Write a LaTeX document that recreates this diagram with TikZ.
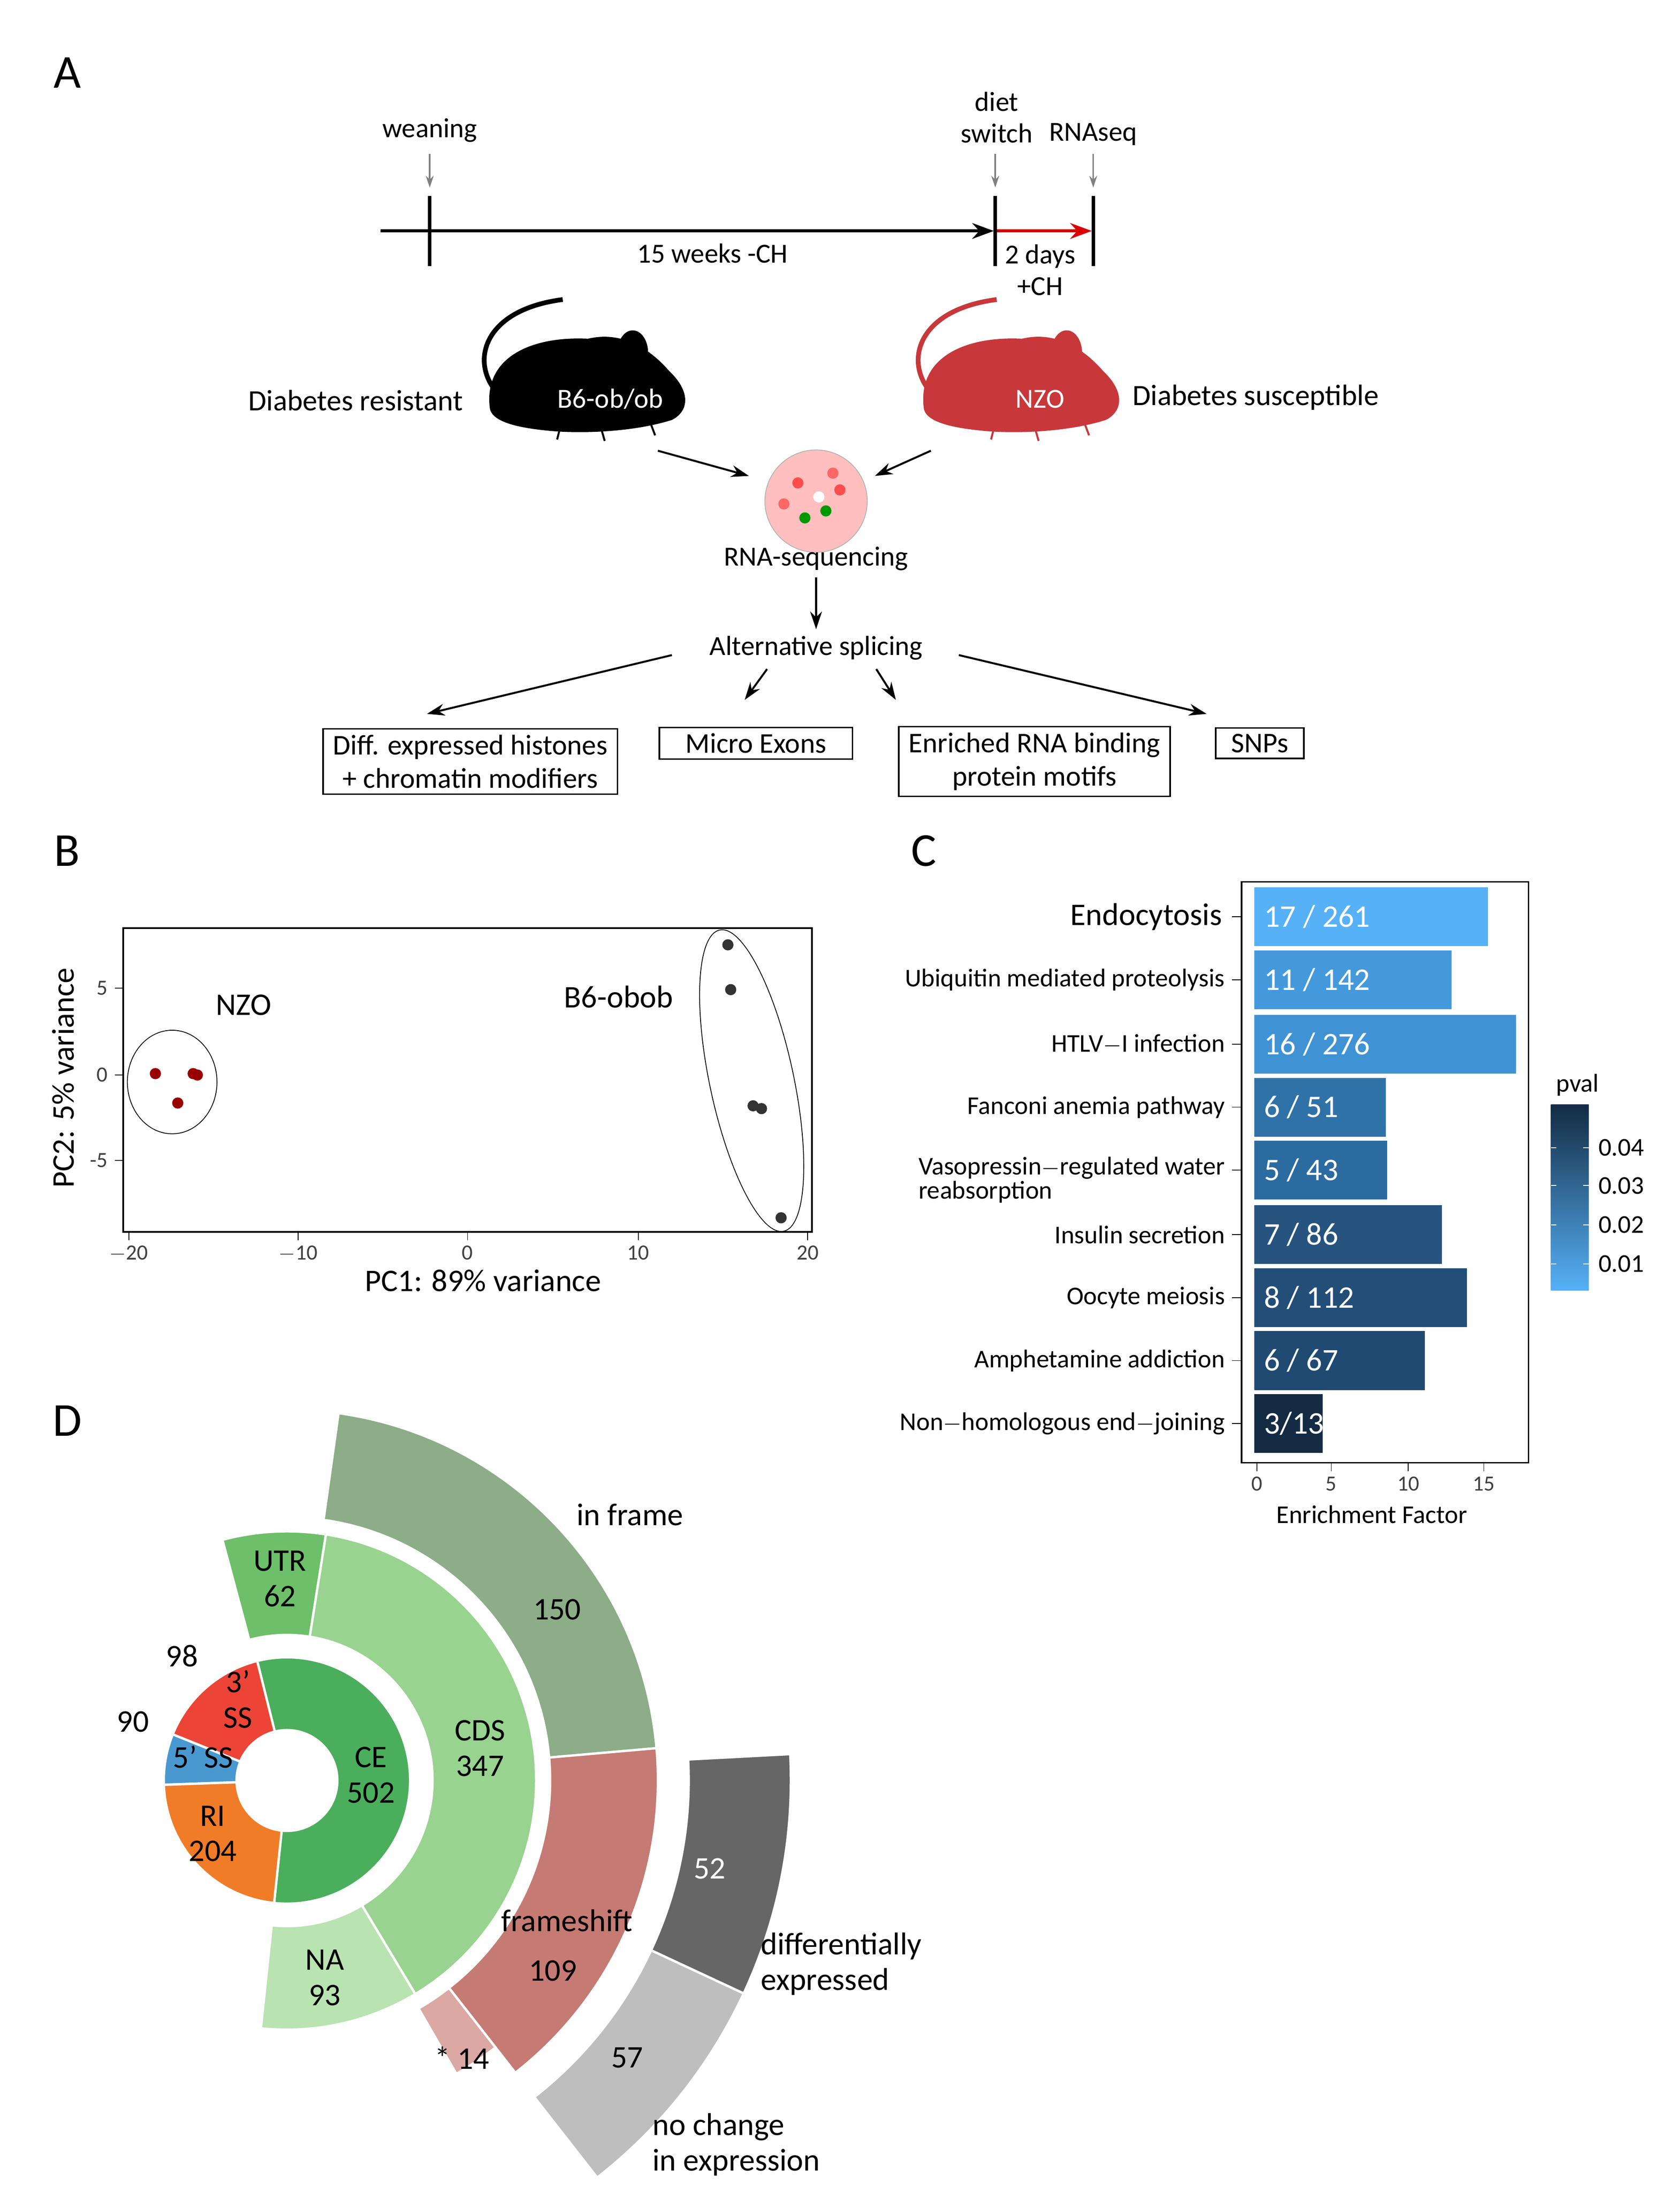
\documentclass[tikz,border=0pt]{standalone}
\usepackage{fontspec}
\setmainfont{Carlito}
\usetikzlibrary{arrows.meta,shapes.geometric}
\definecolor{bA}{HTML}{56B1F7}\definecolor{bB}{HTML}{4499DD}\definecolor{bC}{HTML}{3F93D4}
\definecolor{bD}{HTML}{2F72A8}\definecolor{bE}{HTML}{2C6BA0}\definecolor{bF}{HTML}{26547F}
\definecolor{bG}{HTML}{224E78}\definecolor{bH}{HTML}{204A72}\definecolor{bI}{HTML}{132B43}
\definecolor{cCE}{HTML}{4BAE5C}\definecolor{cRI}{HTML}{F07C28}\definecolor{cF}{HTML}{4A98D0}
\definecolor{cT}{HTML}{EC4436}\definecolor{cUTR}{HTML}{6DBF69}\definecolor{cCDS}{HTML}{98D38F}
\definecolor{cNA}{HTML}{B9E3B0}\definecolor{cIF}{HTML}{8CAD87}\definecolor{cFS}{HTML}{C57A73}
\definecolor{cST}{HTML}{DBA8A3}\definecolor{cDE}{HTML}{666666}\definecolor{cNC}{HTML}{BEBEBE}
\definecolor{mred}{HTML}{C8383A}
\newcommand{\wseg}[5]{\filldraw[fill=#1,draw=white,line width=1.2pt] (#2:#4) arc[start angle=#2,end angle=#3,radius=#4] -- (#3:#5) arc[start angle=#3,end angle=#2,radius=#5] -- cycle;}
\newcommand{\mymouse}[2]{%
 \begin{scope}[shift={(#1,0)}]
 \draw[#2,line width=2.4pt] (360,285) .. controls (335,265) and (340,222) .. (402,214);
 \fill[#2] (350,292) .. controls (345,255) and (380,240) .. (420,242) .. controls (445,236) and (465,250) .. (478,265) .. controls (494,280) and (492,294) .. (480,300) .. controls (455,308) and (420,310) .. (395,308) .. controls (372,306) and (352,302) .. (350,292) -- cycle;
 \fill[#2] (452,252) ellipse [x radius=11,y radius=16];
 \draw[#2,line width=1pt] (400,306)--(398,314) (430,308)--(432,315) (465,303)--(468,311);
 \end{scope}}
\begin{document}
\begin{tikzpicture}[x=0.025cm,y=-0.025cm,font=\fontsize{14}{16}\selectfont]
\useasboundingbox (0,0) rectangle (1200,1566);
\tikzset{lbl/.style={font=\fontsize{24}{26}\selectfont},
 box/.style={draw,thick,align=center,inner xsep=5pt,inner ysep=3pt,font=\fontsize{14.5}{17}\selectfont},
 arr/.style={-{Stealth[length=9pt,width=6pt]},line width=1pt},
 garr/.style={-{Stealth[length=6pt,width=4pt]},gray,line width=0.8pt},
 tick/.style={font=\fontsize{11}{12}\selectfont,text=black!75}}
% ---------------- A
\node[lbl] (lA) at (48,52) {A};
\coordinate (t0) at (272,165); \coordinate (t1) at (710,165); \coordinate (t2) at (780,165);
\draw[-{Stealth[length=11pt,width=8pt]},line width=1.6pt] (t0) -- (t1);
\draw[-{Stealth[length=11pt,width=8pt]},line width=1.6pt,red!85!black] (t1) -- (t2);
\draw[line width=1.8pt] (307,140)--(307,190) (711,140)--(711,190) (781,140)--(781,190);
\node (wean) at (307,93) {weaning};
\node[align=center] (diet) at (712,84) {diet\\switch};
\node (rnas) at (781,96) {RNAseq};
\draw[garr] (307,110)--(307,134); \draw[garr] (711,110)--(711,134); \draw[garr] (781,110)--(781,134);
\node (w15) at (509,181) {15 weeks -CH};
\node[align=center] (d2) at (743,193) {2 days\\+CH};
\mymouse{0}{black}
\mymouse{310}{mred}
\node[white] (b6) at (436,285) {B6-ob/ob};
\node[white] (nzo) at (743,285) {NZO};
\node[font=\fontsize{15}{17}\selectfont] (dr) at (254,286) {Diabetes resistant};
\node[font=\fontsize{15}{17}\selectfont] (ds) at (897,284) {Diabetes susceptible};
\node[circle,fill=red!25,draw=gray!60,minimum size=52pt,inner sep=0] (tis) at (583,358) {};
\foreach \p/\c in {{570,345}/red!70,{590,365}/green!60!black,{600,350}/red!70,{575,370}/green!60!black,{560,360}/red!60,{595,338}/red!60,{585,355}/white}
 \fill[\c] (\p) circle (4);
\coordinate (m1) at (470,322); \coordinate (m2) at (665,322);
\draw[arr] (m1) -- (535,340);
\draw[arr] (m2) -- (625,340);
\node (rs) at (583,399) {RNA-sequencing};
\node (as) at (583,463) {Alternative splicing};
\draw[arr] (rs) -- (as);
\node[box] (h) at (336,544) {Diff. expressed histones\\+ chromatin modifiers};
\node[box,minimum width=138*0.025cm] (me) at (540,531) {Micro Exons};
\node[box] (rb) at (739,544) {Enriched RNA binding\\protein motifs};
\node[box,minimum width=63*0.025cm] (snp) at (900,531) {SNPs};
\draw[arr] (480,468) -- (305,510);
\draw[arr] (548,478) -- (532,500);
\draw[arr] (626,478) -- (640,500);
\draw[arr] (685,468) -- (862,510);
% ---------------- B
\node[lbl] (lB) at (48,608) {B};
\draw[thick] (88,663) rectangle (580,880);
\foreach \v/\x in {-20/92,-10/213,0/334,10/456,20/577}{\draw (\x,880)--(\x,886); \node[tick,below] at (\x,885) {$\mathrm{\v}$};}
\foreach \v/\y in {5/706,0/768,-5/829}{\draw (82,\y)--(88,\y); \node[tick,left] at (82,\y) {\v};}
\node[font=\fontsize{16}{18}\selectfont] (pc1) at (345,915) {PC1: 89\% variance};
\node[font=\fontsize{16}{18}\selectfont,rotate=90] (pc2) at (45,770) {PC2: 5\% variance};
\foreach \p in {{111,767},{138,767},{141,768},{127,788}} \fill[red!60!black] (\p) circle (4);
\foreach \p in {{520,675},{522,707},{538,790},{544,792},{558,870}} \fill[black!80] (\p) circle (4);
\draw (123,773) ellipse [x radius=32,y radius=37];
\draw[rotate around={12:(537,772)}] (537,772) ellipse [x radius=30,y radius=110];
\node[font=\fontsize{16}{18}\selectfont] (nzoB) at (174,718) {NZO};
\node[font=\fontsize{16}{18}\selectfont] (b6B) at (442,712) {B6-obob};
% ---------------- C
\node[lbl] (lC) at (660,608) {C};
\draw[thick] (887,630) rectangle (1092,1045);
\foreach \y/\e/\c/\t/\n in {700/1037/bB/{11 / 142}/Ubiquitin mediated proteolysis,746/1083/bC/{16 / 276}/HTLV$-$I infection,791/990/bD/{6 / 51}/Fanconi anemia pathway,882/1030/bF/{7 / 86}/Insulin secretion,927/1048/bG/{8 / 112}/Oocyte meiosis,972/1018/bH/{6 / 67}/Amphetamine addiction,1017/945/bI/{3/13}/Non$-$homologous end$-$joining}{
 \fill[\c] (896,\y-21) rectangle (\e,\y+21);
 \node[white,right,font=\fontsize{16}{18}\selectfont] at (898,\y) {\t};
 \draw (880,\y)--(887,\y);
 \node[left,font=\fontsize{13}{15}\selectfont] at (880,\y) {\n};}
\fill[bA] (896,634) rectangle (1063,676);
\node[white,right,font=\fontsize{16}{18}\selectfont] at (898,655) {17 / 261};
\draw (880,655)--(887,655);
\node[left,font=\fontsize{16}{18}\selectfont] at (878,655) {Endocytosis};
\fill[bE] (896,815) rectangle (991,857);
\node[white,right,font=\fontsize{16}{18}\selectfont] at (898,836) {5 / 43};
\draw (880,836)--(887,836);
\node[left,align=left,font=\fontsize{13}{11}\selectfont] at (880,843) {Vasopressin$-$regulated water\\reabsorption};
\foreach \v/\x in {0/898,5/951,10/1006,15/1060}{\draw (\x,1045)--(\x,1051); \node[tick,below] at (\x,1050) {\v};}
\node[font=\fontsize{13}{15}\selectfont] (ef) at (980,1082) {Enrichment Factor};
\shade[top color=bI,bottom color=bA] (1108,789) rectangle (1135,922);
\node[font=\fontsize{13}{15}\selectfont] (pv) at (1127,775) {pval};
\foreach \v/\y in {0.04/820,0.03/847,0.02/875,0.01/903}{\draw[white] (1108,\y)--(1112,\y) (1131,\y)--(1135,\y); \node[right,font=\fontsize{13}{15}\selectfont] at (1137,\y) {\v};}
% ---------------- D
\node[lbl] (lD) at (48,1015) {D};
\begin{scope}[shift={(205,1272)},y=0.025cm]
\wseg{cCE}{-96}{104}{36}{88}
\wseg{cT}{104}{158}{36}{88}
\wseg{cF}{158}{182}{36}{88}
\wseg{cRI}{182}{264}{36}{88}
\wseg{cUTR}{81}{105}{104}{178}
\wseg{cCDS}{-59}{81}{104}{178}
\wseg{cNA}{-96}{-59}{104}{178}
\wseg{cIF}{5}{82}{188}{265}
\wseg{cFS}{-52}{5}{188}{265}
\wseg{cST}{-60}{-52}{188}{242}
\wseg{cDE}{-25}{3}{287}{360}
\wseg{cNC}{-52}{-25}{287}{360}
\end{scope}
\tikzset{dl/.style={align=center,font=\fontsize{16}{18}\selectfont}}
\node[dl] at (130,1183) {98};
\node[dl] at (95,1230) {90};
\node[dl] at (170,1214) {3'\\SS};
\node[dl] at (145,1255) {5' SS};
\node[dl] at (152,1310) {RI\\204};
\node[dl] at (265,1268) {CE\\502};
\node[dl] at (200,1128) {UTR\\62};
\node[dl] at (343,1249) {CDS\\347};
\node[dl] at (232,1413) {NA\\93};
\node[dl] at (450,1082) {in frame};
\node[dl] at (398,1150) {150};
\node[dl] at (405,1372) {frameshift};
\node[dl] at (395,1408) {109};
\node[dl] at (330,1470) {* 14};
\node[dl,white] at (507,1335) {52};
\node[dl,align=left] at (601,1403) {differentially\\expressed};
\node[dl] at (448,1470) {57};
\node[dl,align=left] at (526,1532) {no change\\in expression};
\end{tikzpicture}
\end{document}
